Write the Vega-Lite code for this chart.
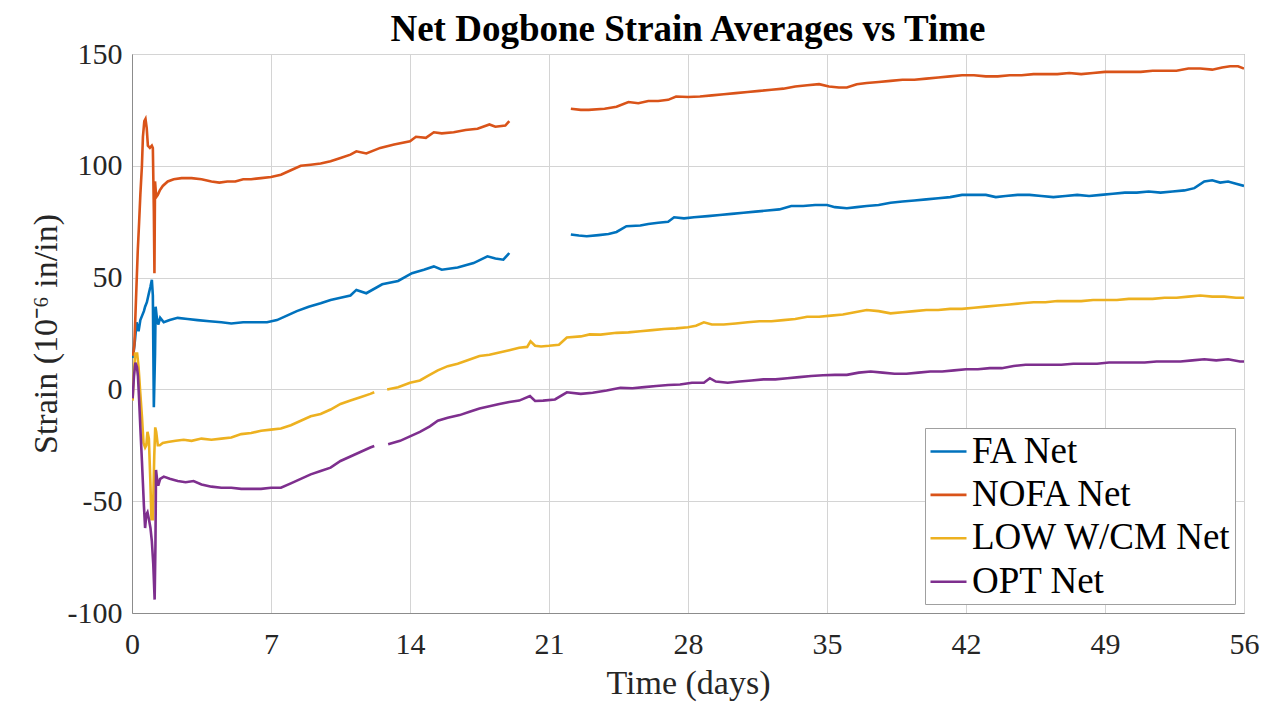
{
  "$schema": "https://vega.github.io/schema/vega-lite/v6.json",
  "width": 1112,
  "height": 559,
  "autosize": {"type": "none"},
  "padding": {"left": 132, "top": 54, "right": 29, "bottom": 96},
  "background": "white",
  "title": {"text": "Net Dogbone Strain Averages vs Time", "font": "Liberation Serif", "fontSize": 37, "fontWeight": "bold", "color": "black", "anchor": "middle", "frame": "group", "offset": -10},
  "datasets": {
    "fa": [
      {"t":0.05,"v":14,"g":1},{"t":0.15,"v":22,"g":1},{"t":0.23,"v":30,"g":1},{"t":0.33,"v":26,"g":1},{"t":0.42,"v":31,"g":1},{"t":0.51,"v":33,"g":1},{"t":0.6,"v":35,"g":1},{"t":0.66,"v":37,"g":1},{"t":0.75,"v":39,"g":1},{"t":0.85,"v":43,"g":1},{"t":0.93,"v":46,"g":1},{"t":1.0,"v":49,"g":1},{"t":1.05,"v":42,"g":1},{"t":1.1,"v":-8,"g":1},{"t":1.16,"v":16,"g":1},{"t":1.19,"v":37,"g":1},{"t":1.25,"v":32,"g":1},{"t":1.32,"v":29,"g":1},{"t":1.42,"v":32,"g":1},{"t":1.6,"v":30,"g":1},{"t":1.9,"v":31,"g":1},{"t":2.3,"v":32,"g":1},{"t":2.8,"v":31.5,"g":1},{"t":3.3,"v":31,"g":1},{"t":3.9,"v":30.5,"g":1},{"t":4.5,"v":30,"g":1},{"t":5.0,"v":29.5,"g":1},{"t":5.6,"v":30,"g":1},{"t":6.2,"v":30,"g":1},{"t":6.8,"v":30,"g":1},{"t":7.3,"v":31,"g":1},{"t":7.8,"v":33,"g":1},{"t":8.3,"v":35,"g":1},{"t":8.9,"v":37,"g":1},{"t":9.5,"v":38.5,"g":1},{"t":10.0,"v":40,"g":1},{"t":10.5,"v":41,"g":1},{"t":11.0,"v":42,"g":1},{"t":11.3,"v":44.5,"g":1},{"t":11.8,"v":43,"g":1},{"t":12.6,"v":47,"g":1},{"t":13.4,"v":48.5,"g":1},{"t":14.1,"v":52,"g":1},{"t":14.7,"v":53.5,"g":1},{"t":15.2,"v":55,"g":1},{"t":15.6,"v":53.5,"g":1},{"t":16.4,"v":54.5,"g":1},{"t":17.2,"v":56.5,"g":1},{"t":17.9,"v":59.5,"g":1},{"t":18.3,"v":58.5,"g":1},{"t":18.7,"v":58,"g":1},{"t":19.0,"v":61,"g":1},
      {"t":22.1,"v":69.3,"g":2},{"t":22.5,"v":68.8,"g":2},{"t":22.9,"v":68.5,"g":2},{"t":23.5,"v":69,"g":2},{"t":24.0,"v":69.5,"g":2},{"t":24.4,"v":70.4,"g":2},{"t":24.9,"v":73,"g":2},{"t":25.6,"v":73.3,"g":2},{"t":26.0,"v":74,"g":2},{"t":26.5,"v":74.5,"g":2},{"t":27.0,"v":75,"g":2},{"t":27.3,"v":77,"g":2},{"t":27.8,"v":76.5,"g":2},{"t":28.3,"v":77,"g":2},{"t":29.0,"v":77.5,"g":2},{"t":29.6,"v":78,"g":2},{"t":30.2,"v":78.5,"g":2},{"t":30.8,"v":79,"g":2},{"t":31.4,"v":79.5,"g":2},{"t":32.0,"v":80,"g":2},{"t":32.6,"v":80.5,"g":2},{"t":33.2,"v":82,"g":2},{"t":33.8,"v":82,"g":2},{"t":34.4,"v":82.5,"g":2},{"t":35.0,"v":82.5,"g":2},{"t":35.4,"v":81.5,"g":2},{"t":36.0,"v":81,"g":2},{"t":36.5,"v":81.5,"g":2},{"t":37.0,"v":82,"g":2},{"t":37.6,"v":82.5,"g":2},{"t":38.2,"v":83.5,"g":2},{"t":38.8,"v":84,"g":2},{"t":39.4,"v":84.5,"g":2},{"t":40.0,"v":85,"g":2},{"t":40.6,"v":85.5,"g":2},{"t":41.2,"v":86,"g":2},{"t":41.8,"v":87,"g":2},{"t":42.4,"v":87,"g":2},{"t":43.0,"v":87,"g":2},{"t":43.5,"v":86,"g":2},{"t":44.0,"v":86.5,"g":2},{"t":44.6,"v":87,"g":2},{"t":45.2,"v":87,"g":2},{"t":45.8,"v":86.5,"g":2},{"t":46.4,"v":86,"g":2},{"t":47.0,"v":86.5,"g":2},{"t":47.6,"v":87,"g":2},{"t":48.2,"v":86.5,"g":2},{"t":48.8,"v":87,"g":2},{"t":49.4,"v":87.5,"g":2},{"t":50.0,"v":88,"g":2},{"t":50.6,"v":88,"g":2},{"t":51.2,"v":88.5,"g":2},{"t":51.8,"v":88,"g":2},{"t":52.4,"v":88.5,"g":2},{"t":53.0,"v":89,"g":2},{"t":53.5,"v":90,"g":2},{"t":54.0,"v":93,"g":2},{"t":54.4,"v":93.5,"g":2},{"t":54.8,"v":92.5,"g":2},{"t":55.2,"v":93,"g":2},{"t":55.6,"v":92,"g":2},{"t":56.0,"v":91,"g":2}
    ],
    "nofa": [
      {"t":0.05,"v":15,"g":1},{"t":0.12,"v":20,"g":1},{"t":0.2,"v":40,"g":1},{"t":0.29,"v":62,"g":1},{"t":0.36,"v":75,"g":1},{"t":0.42,"v":87,"g":1},{"t":0.5,"v":100,"g":1},{"t":0.55,"v":113,"g":1},{"t":0.62,"v":120,"g":1},{"t":0.68,"v":121,"g":1},{"t":0.74,"v":117,"g":1},{"t":0.8,"v":109,"g":1},{"t":0.9,"v":108,"g":1},{"t":1.0,"v":109,"g":1},{"t":1.05,"v":108,"g":1},{"t":1.1,"v":80,"g":1},{"t":1.13,"v":52,"g":1},{"t":1.16,"v":93,"g":1},{"t":1.22,"v":86,"g":1},{"t":1.3,"v":87,"g":1},{"t":1.4,"v":89,"g":1},{"t":1.55,"v":91,"g":1},{"t":1.8,"v":93,"g":1},{"t":2.1,"v":94,"g":1},{"t":2.5,"v":94.5,"g":1},{"t":3.0,"v":94.5,"g":1},{"t":3.5,"v":94,"g":1},{"t":4.0,"v":93,"g":1},{"t":4.4,"v":92.5,"g":1},{"t":4.8,"v":93,"g":1},{"t":5.2,"v":93,"g":1},{"t":5.6,"v":94,"g":1},{"t":6.0,"v":94,"g":1},{"t":6.5,"v":94.5,"g":1},{"t":7.0,"v":95,"g":1},{"t":7.5,"v":96,"g":1},{"t":8.0,"v":98,"g":1},{"t":8.5,"v":100,"g":1},{"t":9.0,"v":100.5,"g":1},{"t":9.5,"v":101,"g":1},{"t":10.0,"v":102,"g":1},{"t":10.5,"v":103.5,"g":1},{"t":11.0,"v":105,"g":1},{"t":11.3,"v":106.5,"g":1},{"t":11.8,"v":105.5,"g":1},{"t":12.5,"v":108,"g":1},{"t":13.2,"v":109.5,"g":1},{"t":14.0,"v":111,"g":1},{"t":14.3,"v":113,"g":1},{"t":14.8,"v":112.5,"g":1},{"t":15.2,"v":115,"g":1},{"t":15.6,"v":114.5,"g":1},{"t":16.2,"v":115,"g":1},{"t":16.8,"v":116,"g":1},{"t":17.4,"v":116.6,"g":1},{"t":18.0,"v":118.5,"g":1},{"t":18.3,"v":117.5,"g":1},{"t":18.8,"v":118,"g":1},{"t":19.0,"v":120,"g":1},
      {"t":22.1,"v":125.5,"g":2},{"t":22.6,"v":125,"g":2},{"t":23.0,"v":125,"g":2},{"t":23.8,"v":125.5,"g":2},{"t":24.4,"v":126.4,"g":2},{"t":25.0,"v":128.5,"g":2},{"t":25.5,"v":128,"g":2},{"t":26.0,"v":129,"g":2},{"t":26.5,"v":129,"g":2},{"t":27.0,"v":129.5,"g":2},{"t":27.4,"v":131,"g":2},{"t":28.0,"v":130.8,"g":2},{"t":28.6,"v":131,"g":2},{"t":29.2,"v":131.5,"g":2},{"t":29.8,"v":132,"g":2},{"t":30.4,"v":132.5,"g":2},{"t":31.0,"v":133,"g":2},{"t":31.6,"v":133.5,"g":2},{"t":32.2,"v":134,"g":2},{"t":32.8,"v":134.5,"g":2},{"t":33.4,"v":135.5,"g":2},{"t":34.0,"v":136,"g":2},{"t":34.6,"v":136.5,"g":2},{"t":35.1,"v":135.5,"g":2},{"t":35.6,"v":135,"g":2},{"t":36.0,"v":135,"g":2},{"t":36.5,"v":136.5,"g":2},{"t":37.0,"v":137,"g":2},{"t":37.6,"v":137.5,"g":2},{"t":38.2,"v":138,"g":2},{"t":38.8,"v":138.5,"g":2},{"t":39.4,"v":138.5,"g":2},{"t":40.0,"v":139,"g":2},{"t":40.6,"v":139.5,"g":2},{"t":41.2,"v":140,"g":2},{"t":41.8,"v":140.5,"g":2},{"t":42.4,"v":140.5,"g":2},{"t":43.0,"v":140,"g":2},{"t":43.6,"v":140,"g":2},{"t":44.2,"v":140.5,"g":2},{"t":44.8,"v":140.5,"g":2},{"t":45.4,"v":141,"g":2},{"t":46.0,"v":141,"g":2},{"t":46.6,"v":141,"g":2},{"t":47.2,"v":141.5,"g":2},{"t":47.8,"v":141,"g":2},{"t":48.4,"v":141.5,"g":2},{"t":49.0,"v":142,"g":2},{"t":49.6,"v":142,"g":2},{"t":50.2,"v":142,"g":2},{"t":50.8,"v":142,"g":2},{"t":51.4,"v":142.5,"g":2},{"t":52.0,"v":142.5,"g":2},{"t":52.6,"v":142.5,"g":2},{"t":53.2,"v":143.5,"g":2},{"t":53.8,"v":143.5,"g":2},{"t":54.4,"v":143,"g":2},{"t":54.9,"v":144,"g":2},{"t":55.3,"v":144.5,"g":2},{"t":55.7,"v":144.5,"g":2},{"t":56.0,"v":143.5,"g":2}
    ],
    "low": [
      {"t":0.03,"v":-5,"g":1},{"t":0.1,"v":8,"g":1},{"t":0.16,"v":16,"g":1},{"t":0.26,"v":16,"g":1},{"t":0.33,"v":10,"g":1},{"t":0.42,"v":-2,"g":1},{"t":0.5,"v":-12,"g":1},{"t":0.58,"v":-24,"g":1},{"t":0.66,"v":-26,"g":1},{"t":0.72,"v":-25,"g":1},{"t":0.78,"v":-19,"g":1},{"t":0.85,"v":-22,"g":1},{"t":0.92,"v":-40,"g":1},{"t":0.98,"v":-58,"g":1},{"t":1.05,"v":-58,"g":1},{"t":1.12,"v":-30,"g":1},{"t":1.17,"v":-17,"g":1},{"t":1.22,"v":-19,"g":1},{"t":1.3,"v":-25,"g":1},{"t":1.4,"v":-25,"g":1},{"t":1.55,"v":-24,"g":1},{"t":1.8,"v":-23.5,"g":1},{"t":2.2,"v":-23,"g":1},{"t":2.6,"v":-22.5,"g":1},{"t":3.0,"v":-23,"g":1},{"t":3.5,"v":-22,"g":1},{"t":4.0,"v":-22.5,"g":1},{"t":4.5,"v":-22,"g":1},{"t":5.0,"v":-21.5,"g":1},{"t":5.5,"v":-20,"g":1},{"t":6.0,"v":-19.5,"g":1},{"t":6.5,"v":-18.5,"g":1},{"t":7.0,"v":-18,"g":1},{"t":7.5,"v":-17.5,"g":1},{"t":8.0,"v":-16,"g":1},{"t":8.5,"v":-14,"g":1},{"t":9.0,"v":-12,"g":1},{"t":9.5,"v":-11,"g":1},{"t":10.0,"v":-9,"g":1},{"t":10.5,"v":-6.5,"g":1},{"t":11.0,"v":-5,"g":1},{"t":11.5,"v":-3.5,"g":1},{"t":12.0,"v":-2,"g":1},{"t":12.2,"v":-1.3,"g":1},
      {"t":12.85,"v":0,"g":2},{"t":13.4,"v":1,"g":2},{"t":14.0,"v":3,"g":2},{"t":14.5,"v":4,"g":2},{"t":14.9,"v":6,"g":2},{"t":15.4,"v":8.5,"g":2},{"t":15.9,"v":10.4,"g":2},{"t":16.4,"v":11.5,"g":2},{"t":16.9,"v":13,"g":2},{"t":17.5,"v":14.9,"g":2},{"t":18.0,"v":15.5,"g":2},{"t":18.5,"v":16.5,"g":2},{"t":19.0,"v":17.5,"g":2},{"t":19.5,"v":18.6,"g":2},{"t":19.9,"v":19,"g":2},{"t":20.07,"v":21.5,"g":2},{"t":20.3,"v":19.5,"g":2},{"t":20.6,"v":19.2,"g":2},{"t":21.0,"v":19.5,"g":2},{"t":21.5,"v":20,"g":2},{"t":21.9,"v":23.2,"g":2},{"t":22.6,"v":23.7,"g":2},{"t":23.05,"v":24.6,"g":2},{"t":23.6,"v":24.5,"g":2},{"t":24.4,"v":25.3,"g":2},{"t":25.0,"v":25.5,"g":2},{"t":25.6,"v":26,"g":2},{"t":26.2,"v":26.5,"g":2},{"t":26.8,"v":27,"g":2},{"t":27.4,"v":27.3,"g":2},{"t":28.0,"v":27.8,"g":2},{"t":28.4,"v":28.5,"g":2},{"t":28.8,"v":30,"g":2},{"t":29.2,"v":29,"g":2},{"t":29.8,"v":29,"g":2},{"t":30.4,"v":29.5,"g":2},{"t":31.0,"v":30,"g":2},{"t":31.6,"v":30.5,"g":2},{"t":32.2,"v":30.5,"g":2},{"t":32.8,"v":31,"g":2},{"t":33.4,"v":31.5,"g":2},{"t":34.0,"v":32.5,"g":2},{"t":34.6,"v":32.5,"g":2},{"t":35.2,"v":33,"g":2},{"t":35.8,"v":33.5,"g":2},{"t":36.4,"v":34.5,"g":2},{"t":37.0,"v":35.5,"g":2},{"t":37.6,"v":35,"g":2},{"t":38.2,"v":34,"g":2},{"t":38.8,"v":34.5,"g":2},{"t":39.4,"v":35,"g":2},{"t":40.0,"v":35.5,"g":2},{"t":40.6,"v":35.5,"g":2},{"t":41.2,"v":36,"g":2},{"t":41.8,"v":36,"g":2},{"t":42.4,"v":36.5,"g":2},{"t":43.0,"v":37,"g":2},{"t":43.6,"v":37.5,"g":2},{"t":44.2,"v":38,"g":2},{"t":44.8,"v":38.5,"g":2},{"t":45.4,"v":39,"g":2},{"t":46.0,"v":39,"g":2},{"t":46.6,"v":39.5,"g":2},{"t":47.2,"v":39.5,"g":2},{"t":47.8,"v":39.5,"g":2},{"t":48.4,"v":40,"g":2},{"t":49.0,"v":40,"g":2},{"t":49.6,"v":40,"g":2},{"t":50.2,"v":40.5,"g":2},{"t":50.8,"v":40.5,"g":2},{"t":51.4,"v":40.5,"g":2},{"t":52.0,"v":41,"g":2},{"t":52.6,"v":41,"g":2},{"t":53.2,"v":41.5,"g":2},{"t":53.8,"v":42,"g":2},{"t":54.4,"v":41.5,"g":2},{"t":55.0,"v":41.5,"g":2},{"t":55.6,"v":41,"g":2},{"t":56.0,"v":41,"g":2}
    ],
    "opt": [
      {"t":0.03,"v":-4,"g":1},{"t":0.1,"v":6,"g":1},{"t":0.17,"v":12,"g":1},{"t":0.25,"v":10,"g":1},{"t":0.3,"v":6,"g":1},{"t":0.36,"v":-5,"g":1},{"t":0.42,"v":-17,"g":1},{"t":0.5,"v":-32,"g":1},{"t":0.55,"v":-42,"g":1},{"t":0.6,"v":-52,"g":1},{"t":0.66,"v":-62,"g":1},{"t":0.72,"v":-56,"g":1},{"t":0.78,"v":-55,"g":1},{"t":0.85,"v":-58,"g":1},{"t":0.93,"v":-62,"g":1},{"t":1.0,"v":-68,"g":1},{"t":1.07,"v":-78,"g":1},{"t":1.14,"v":-94,"g":1},{"t":1.18,"v":-70,"g":1},{"t":1.21,"v":-36,"g":1},{"t":1.26,"v":-40,"g":1},{"t":1.32,"v":-43,"g":1},{"t":1.42,"v":-40,"g":1},{"t":1.6,"v":-39,"g":1},{"t":1.9,"v":-40,"g":1},{"t":2.3,"v":-41,"g":1},{"t":2.7,"v":-41.5,"g":1},{"t":3.1,"v":-41,"g":1},{"t":3.5,"v":-42.5,"g":1},{"t":4.0,"v":-43.5,"g":1},{"t":4.5,"v":-44,"g":1},{"t":5.0,"v":-44,"g":1},{"t":5.5,"v":-44.5,"g":1},{"t":6.0,"v":-44.5,"g":1},{"t":6.5,"v":-44.5,"g":1},{"t":7.0,"v":-44,"g":1},{"t":7.5,"v":-44,"g":1},{"t":8.0,"v":-42,"g":1},{"t":8.5,"v":-40,"g":1},{"t":9.0,"v":-38,"g":1},{"t":9.5,"v":-36.5,"g":1},{"t":10.0,"v":-35,"g":1},{"t":10.5,"v":-32,"g":1},{"t":11.0,"v":-30,"g":1},{"t":11.5,"v":-28,"g":1},{"t":12.0,"v":-26,"g":1},{"t":12.2,"v":-25.3,"g":1},
      {"t":12.9,"v":-24.5,"g":2},{"t":13.5,"v":-23,"g":2},{"t":14.0,"v":-21,"g":2},{"t":14.5,"v":-19,"g":2},{"t":15.0,"v":-16.5,"g":2},{"t":15.4,"v":-14,"g":2},{"t":15.9,"v":-12.7,"g":2},{"t":16.5,"v":-11.5,"g":2},{"t":17.0,"v":-10,"g":2},{"t":17.5,"v":-8.5,"g":2},{"t":18.0,"v":-7.5,"g":2},{"t":18.5,"v":-6.5,"g":2},{"t":19.0,"v":-5.6,"g":2},{"t":19.5,"v":-5,"g":2},{"t":20.04,"v":-3,"g":2},{"t":20.3,"v":-5.2,"g":2},{"t":20.7,"v":-5,"g":2},{"t":21.3,"v":-4.5,"g":2},{"t":21.9,"v":-1.3,"g":2},{"t":22.6,"v":-2,"g":2},{"t":23.2,"v":-1.5,"g":2},{"t":23.9,"v":-0.5,"g":2},{"t":24.6,"v":0.7,"g":2},{"t":25.2,"v":0.5,"g":2},{"t":25.8,"v":1,"g":2},{"t":26.4,"v":1.5,"g":2},{"t":27.0,"v":2,"g":2},{"t":27.6,"v":2.2,"g":2},{"t":28.2,"v":3,"g":2},{"t":28.8,"v":3,"g":2},{"t":29.1,"v":5,"g":2},{"t":29.4,"v":3.5,"g":2},{"t":30.0,"v":3,"g":2},{"t":30.6,"v":3.5,"g":2},{"t":31.2,"v":4,"g":2},{"t":31.8,"v":4.5,"g":2},{"t":32.4,"v":4.5,"g":2},{"t":33.0,"v":5,"g":2},{"t":33.6,"v":5.5,"g":2},{"t":34.2,"v":6,"g":2},{"t":34.8,"v":6.3,"g":2},{"t":35.4,"v":6.5,"g":2},{"t":36.0,"v":6.5,"g":2},{"t":36.6,"v":7.5,"g":2},{"t":37.2,"v":8,"g":2},{"t":37.8,"v":7.5,"g":2},{"t":38.4,"v":7,"g":2},{"t":39.0,"v":7,"g":2},{"t":39.6,"v":7.5,"g":2},{"t":40.2,"v":8,"g":2},{"t":40.8,"v":8,"g":2},{"t":41.4,"v":8.5,"g":2},{"t":42.0,"v":9,"g":2},{"t":42.6,"v":9,"g":2},{"t":43.2,"v":9.5,"g":2},{"t":43.8,"v":9.5,"g":2},{"t":44.4,"v":10.5,"g":2},{"t":45.0,"v":11,"g":2},{"t":45.6,"v":11,"g":2},{"t":46.2,"v":11,"g":2},{"t":46.8,"v":11,"g":2},{"t":47.4,"v":11.5,"g":2},{"t":48.0,"v":11.5,"g":2},{"t":48.6,"v":11.5,"g":2},{"t":49.2,"v":12,"g":2},{"t":49.8,"v":12,"g":2},{"t":50.4,"v":12,"g":2},{"t":51.0,"v":12,"g":2},{"t":51.6,"v":12.5,"g":2},{"t":52.2,"v":12.5,"g":2},{"t":52.8,"v":12.5,"g":2},{"t":53.4,"v":13,"g":2},{"t":54.0,"v":13.5,"g":2},{"t":54.6,"v":13,"g":2},{"t":55.2,"v":13.5,"g":2},{"t":55.8,"v":12.5,"g":2},{"t":56.0,"v":12.5,"g":2}
    ]
  },
  "layer": [
    {"data": {"name": "fa"}, "transform": [{"calculate": "'FA Net'", "as": "s"}], "mark": {"type": "line", "strokeWidth": 2.6, "clip": true},
     "encoding": {"x": {"field": "t", "type": "quantitative"}, "y": {"field": "v", "type": "quantitative"}, "color": {"field": "s", "type": "nominal"}, "detail": {"field": "g"}}},
    {"data": {"name": "nofa"}, "transform": [{"calculate": "'NOFA Net'", "as": "s"}], "mark": {"type": "line", "strokeWidth": 2.6, "clip": true},
     "encoding": {"x": {"field": "t", "type": "quantitative"}, "y": {"field": "v", "type": "quantitative"}, "color": {"field": "s", "type": "nominal"}, "detail": {"field": "g"}}},
    {"data": {"name": "low"}, "transform": [{"calculate": "'LOW W/CM Net'", "as": "s"}], "mark": {"type": "line", "strokeWidth": 2.6, "clip": true},
     "encoding": {"x": {"field": "t", "type": "quantitative"}, "y": {"field": "v", "type": "quantitative"}, "color": {"field": "s", "type": "nominal"}, "detail": {"field": "g"}}},
    {"data": {"name": "opt"}, "transform": [{"calculate": "'OPT Net'", "as": "s"}], "mark": {"type": "line", "strokeWidth": 2.6, "clip": true},
     "encoding": {"x": {"field": "t", "type": "quantitative"}, "y": {"field": "v", "type": "quantitative"}, "color": {"field": "s", "type": "nominal"}, "detail": {"field": "g"}}}
  ],
  "resolve": {"scale": {"color": "shared"}},
  "encoding": {
    "x": {"field": "t", "type": "quantitative", "scale": {"domain": [0, 56], "nice": false},
      "axis": {"values": [0, 7, 14, 21, 28, 35, 42, 49, 56], "title": "Time (days)", "labelPadding": 16, "titlePadding": 7, "labelFlush": false}},
    "y": {"field": "v", "type": "quantitative", "scale": {"domain": [-100, 150], "nice": false, "zero": false},
      "axis": {"values": [-100, -50, 0, 50, 100, 150], "title": "Strain (10⁻⁶ in/in)", "labelPadding": 10, "titlePadding": 4, "labelExpr": "replace(datum.label, '−', '-')"}},
    "color": {"field": "s", "type": "nominal",
      "scale": {"domain": ["FA Net", "NOFA Net", "LOW W/CM Net", "OPT Net"], "range": ["#0072BD", "#D95319", "#EDB120", "#7E2F8E"]},
      "legend": {"title": null, "orient": "bottom-right", "offset": 9, "symbolType": "stroke", "symbolSize": 1296, "symbolStrokeWidth": 2.6,
        "labelFont": "Liberation Serif", "labelFontSize": 37, "labelColor": "black", "labelOffset": 4, "rowPadding": 5.4, "padding": 4,
        "strokeColor": "#a0a0a0", "fillColor": "white", "labelLimit": 400}}
  },
  "config": {
    "view": {"stroke": "#8c8c8c", "strokeWidth": 1},
    "axis": {"labelFont": "Liberation Serif", "titleFont": "Liberation Serif", "labelFontSize": 30, "titleFontSize": 34, "titleFontWeight": "normal",
      "labelColor": "#262626", "titleColor": "#262626", "domainColor": "#8c8c8c", "gridColor": "#d4d4d4", "gridOpacity": 1, "ticks": false, "grid": true}
  }
}
